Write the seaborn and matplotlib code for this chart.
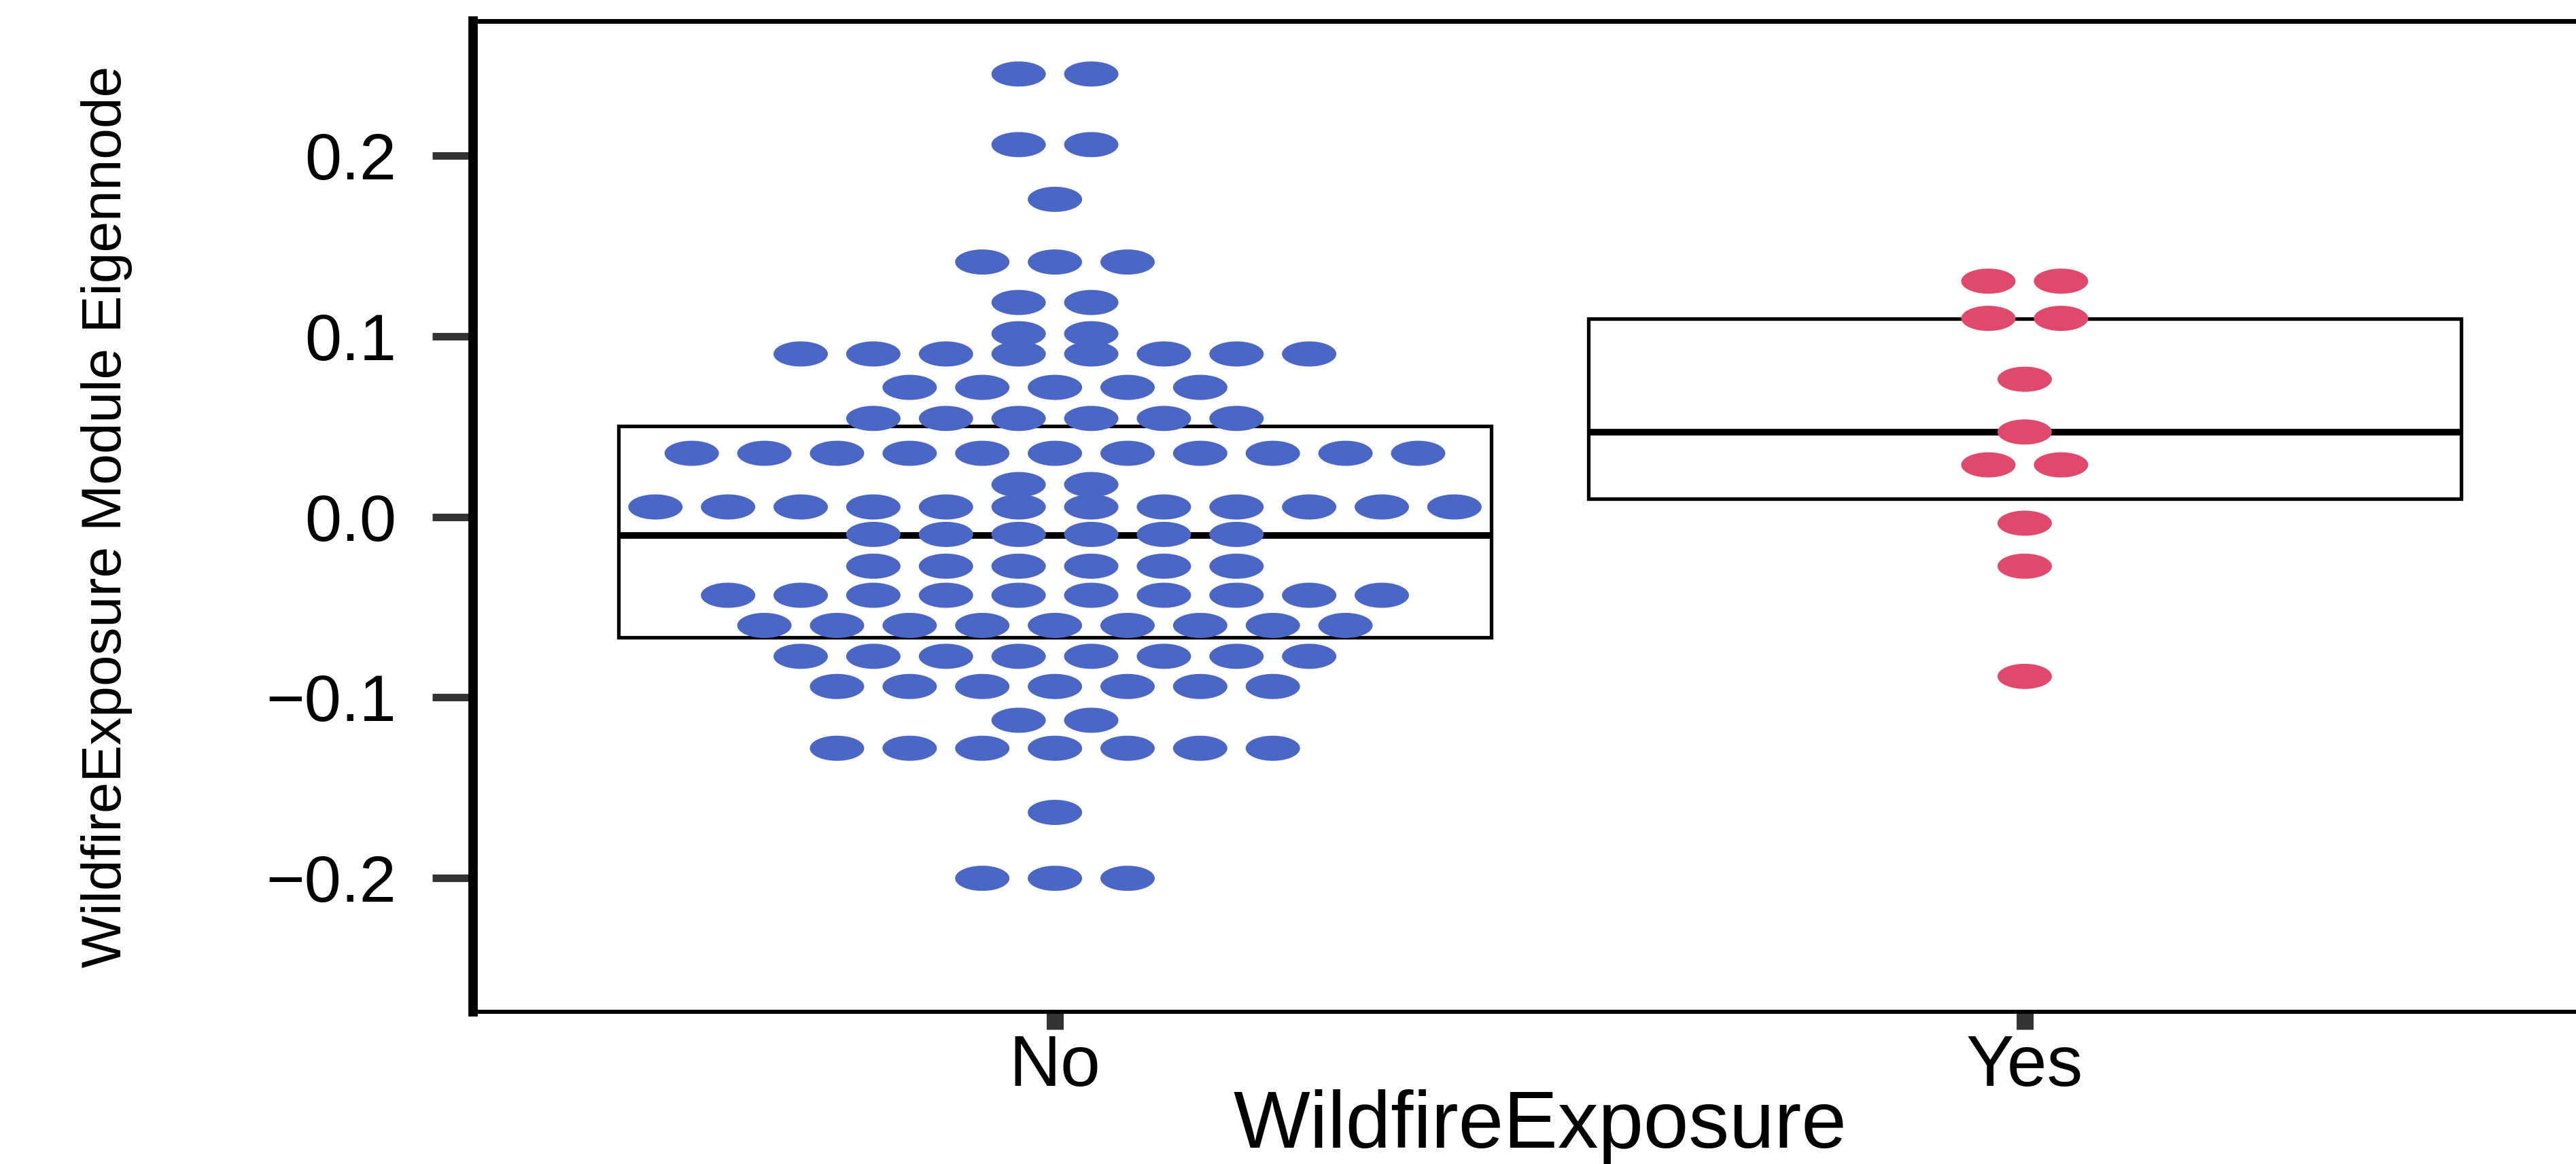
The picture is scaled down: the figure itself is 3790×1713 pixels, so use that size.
import numpy as np
import pandas as pd
import matplotlib
matplotlib.use("Agg")
import matplotlib.pyplot as plt
from matplotlib.path import Path
import seaborn as sns

# Exposure groups and the binned eigengene values (bin centre, number of samples)
groups = ["No", "Yes"]
no_bins = [0.2452, 0.2061, 0.1758, 0.1411, 0.1187, 0.1014, 0.0902, 0.0717,
           0.0545, 0.0352, 0.0179, 0.0055, -0.0097, -0.0273, -0.0434, -0.0601,
           -0.0772, -0.0939, -0.1126, -0.1281, -0.1636, -0.2001]
no_counts = [2, 2, 1, 3, 2, 2, 8, 5, 6, 11, 2, 12, 6, 6, 10, 9, 8, 7, 2, 7, 1, 3]
yes_bins = [0.1305, 0.1099, 0.0762, 0.0470, 0.0288, -0.0035, -0.0273, -0.0883]
yes_counts = [2, 2, 1, 1, 2, 1, 1, 1]

# Box summaries per group (lower hinge, median, upper hinge)
box_q1 = [-0.0666, 0.0102]
box_median = [-0.0101, 0.0470]
box_q3 = [0.0502, 0.1099]

ytick_values = [-0.2, -0.1, 0.0, 0.1, 0.2]
ytick_labels = ["\u22120.2", "\u22120.1", "0.0", "0.1", "0.2"]
palette = {"No": "#4A67C5", "Yes": "#E0496B"}

sns.set_theme(style="white")
plt.rcParams["font.family"] = ["Liberation Sans", "DejaVu Sans"]

W, H = 3791, 1713
fig = plt.figure(figsize=(W / 100, H / 100), dpi=100)
ax = fig.add_axes([696 / W, 1 - 1489 / H, 3139 / W, (1489 - 31) / H])

# Dot-plot stacking: dots in one bin sit side by side, centred on the group
dot_step = 0.0749
records = []
for gi, (g, bins, counts) in enumerate(zip(groups, [no_bins, yes_bins],
                                            [no_counts, yes_counts])):
    for v, n in zip(bins, counts):
        offs = (np.arange(n) - (n - 1) / 2) * dot_step
        for o in offs:
            records.append((g, gi + 1 + o, v))
df = pd.DataFrame(records, columns=["WildfireExposure", "xpos", "value"])

# Boxes (no whiskers) drawn underneath the dots
stats = [dict(label=g, med=m, q1=a, q3=b, whislo=a, whishi=b, fliers=[])
         for g, a, m, b in zip(groups, box_q1, box_median, box_q3)]
ax.bxp(stats, positions=[1, 2], widths=0.9, showcaps=False, showfliers=False,
       patch_artist=True, manage_ticks=False,
       boxprops=dict(facecolor="white", edgecolor="black", linewidth=3.8),
       medianprops=dict(color="black", linewidth=7, solid_capstyle="butt"),
       whiskerprops=dict(linewidth=0))

# Wide elliptical dot marker
t = np.linspace(0, 2 * np.pi, 73)
ellipse = Path(np.column_stack([np.cos(t), 0.4625 * np.sin(t)]), closed=True)
sns.scatterplot(data=df, x="xpos", y="value", hue="WildfireExposure",
                palette=palette, marker=ellipse, s=3318, linewidth=0,
                legend=False, ax=ax, zorder=3)

ax.set_xlim(0.4, 2.6)
ax.set_ylim(-0.274, 0.2745)
ax.set_xticks([1, 2])
ax.set_xticklabels(groups)
ax.set_yticks(ytick_values)
ax.set_yticklabels(ytick_labels)

for side, lw in {"left": 10, "top": 5, "bottom": 4.3, "right": 5}.items():
    ax.spines[side].set_visible(True)
    ax.spines[side].set_color("black")
    ax.spines[side].set_linewidth(lw)

ax.tick_params(axis="x", bottom=True, length=18.7, width=18, color="#333333",
               pad=4, labelsize=76, labelcolor="black")
ax.tick_params(axis="y", left=True, length=43, width=8, color="#333333",
               pad=38, labelsize=70, labelcolor="black")

ax.set_xlabel("WildfireExposure", fontsize=86, color="black")
ax.set_ylabel("WildfireExposure Module Eigennode", fontsize=59, color="black")
ax.xaxis.set_label_coords(0.5, -(1603 - 1489) / 1458)
ax.yaxis.set_label_coords(-(696 - 195) / 3139, 0.5)

fig.savefig("out.png", dpi=100)
